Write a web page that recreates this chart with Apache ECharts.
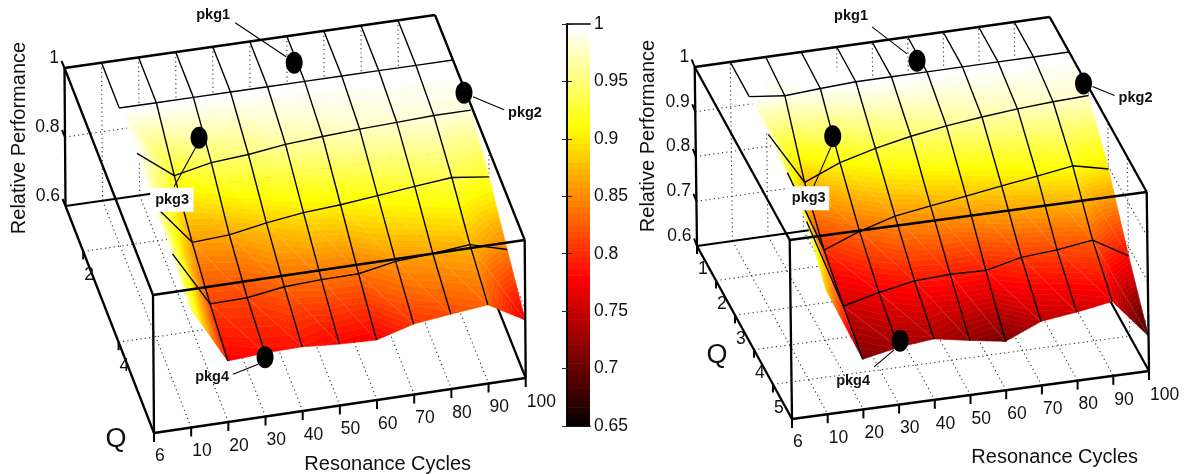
<!DOCTYPE html>
<html>
<head>
<meta charset="utf-8">
<style>html,body{margin:0;padding:0;background:#fff}#c{width:1185px;height:474px}</style>
<script src="https://cdn.jsdelivr.net/npm/echarts@6/dist/echarts.min.js"></script>
</head>
<body>
<div id="c"></div>
<script>
// ---- data ----
const cycles = [10,20,30,40,50,60,70,80,90,100];
const qLevels = [1,2,3,4,5,6];
const cycleTickValues = [0,10,20,30,40,50,60,70,80,90,100];
const cycleTickLabels = ['','10','20','30','40','50','60','70','80','90','100'];
const leftQTicks = [2,4,6];
const rightQTicks = [1,2,3,4,5,6];
const leftPerfTicks = [0.6,0.8,1];
const rightPerfTicks = [0.6,0.7,0.8,0.9,1];

const leftQ1 = [1,1,1,1,1,1,1,1,1,1];
const leftQ2 = [1,1,1,1,1,1,1,1,1,1];
const leftQ3 = [1,.92,.942,.95,.964,.971,.977,.981,.985,.985];
const leftQ4 = [.98,.858,.864,.883,.897,.904,.915,.926,.936,.922];
const leftQ5 = [.972,.811,.813,.829,.834,.835,.855,.862,.872,.842];
const leftQ6 = [.946,.777,.784,.786,.778,.774,.804,.817,.828,.768];

const rightQ1 = [1,1,1,1,1,1,1,1,1,1];
const rightQ2 = [1,.991,.996,1,1,1,1,1,1,1];
const rightQ3 = [.993,.875,.908,.929,.945,.957,.966,.973,.978,.981];
const rightQ4 = [.985,.801,.832,.855,.867,.878,.89,.901,.913,.895];
const rightQ5 = [.953,.753,.773,.788,.792,.79,.808,.814,.825,.779];
const rightQ6 = [.878,.712,.728,.736,.722,.709,.743,.753,.766,.678];

const pkgNames = ['pkg1','pkg2','pkg3','pkg4'];
const leftPkgPoints = [[59.2,1.58,1],[99.5,2.72,1],[27.4,2.86,1],[30,6,.772]];
const rightPkgPoints = [[59,1.67,1],[99.2,2.89,1],[26.1,3.375,1],[30.5,6,.742]];

// ---- presentation ----
const FONT = '"Liberation Sans", Arial, sans-serif';
const leftPanel = {
  bl:[65.5,206], br:[436,153], fl:[154,433], fr:[525.7,378], up:[-1,-138],
  rows:[leftQ1,leftQ2,leftQ3,leftQ4,leftQ5,leftQ6],
  qTicks:leftQTicks, perfTicks:leftPerfTicks, pkgs:leftPkgPoints,
  perfTick:[-3,-7],
  perfTitle:[19,138], cycTitle:[387.7,464], qTitle:[116,440],
  pkgLayout:[
    {label:[-81,-48],lead:[[-59,-40],[-8,-6]]},
    {label:[61,20],lead:[[9,4],[40,17]]},
    {label:[-27,62],lead:[[-3,9],[-25,49]],box:[43,24]},
    {label:[-53,20],lead:[[-7,7],[-32,17]]}
  ]
};
const rightPanel = {
  bl:[697,246], br:[1052,196], fl:[792,419], fr:[1149,371], up:[-2.3,-179],
  rows:[rightQ1,rightQ2,rightQ3,rightQ4,rightQ5,rightQ6],
  qTicks:rightQTicks, perfTicks:rightPerfTicks, pkgs:rightPkgPoints,
  perfTick:[-3,-7.5],
  perfTitle:[648,136], cycTitle:[1054.7,457], qTitle:[717,356],
  pkgLayout:[
    {label:[-66,-45],lead:[[-10,-7],[-45,-34]]},
    {label:[52,14],lead:[[9,3],[31,12]]},
    {label:[-24,62],lead:[[-2,11],[-19,50]],box:[41,24]},
    {label:[-47,40],lead:[[-6,9],[-26,26]]}
  ]
};

const LEVELS = 64, PMIN = 0.65, PMAX = 1;
function clamp01(t){return Math.max(0,Math.min(1,t));}
function hot(t){
  const r=clamp01(t/0.375), g=clamp01((t-0.375)/0.375), b=clamp01((t-0.75)/0.25);
  return 'rgb('+Math.round(r*255)+','+Math.round(g*255)+','+Math.round(b*255)+')';
}
function levelColor(k){return hot((k+1)/LEVELS);}

function projector(p){
  return function(x,q,z){
    const u=x/100, v=(q-1)/5, w=(z-0.6)/0.4;
    const fx=(1-v)*((1-u)*p.bl[0]+u*p.br[0])+v*((1-u)*p.fl[0]+u*p.fr[0]);
    const fy=(1-v)*((1-u)*p.bl[1]+u*p.br[1])+v*((1-u)*p.fl[1]+u*p.fr[1]);
    return [fx+w*p.up[0], fy+w*p.up[1]];
  };
}
function clipBand(poly,lo,hi){
  function clip(pts,test,t){
    const out=[];
    for(let i=0;i<pts.length;i++){
      const a=pts[i], b=pts[(i+1)%pts.length];
      const ia=test(a[2]), ib=test(b[2]);
      if(ia) out.push(a);
      if(ia!==ib){
        const s=(t-a[2])/(b[2]-a[2]);
        out.push([a[0]+s*(b[0]-a[0]),a[1]+s*(b[1]-a[1]),t]);
      }
    }
    return out;
  }
  let r=clip(poly,z=>z>=lo,lo);
  if(r.length) r=clip(r,z=>z<=hi,hi);
  return r;
}
function layer(name,items,draw){
  return {
    type:'custom', name:name, coordinateSystem:'cartesian2d', xAxisIndex:0, yAxisIndex:0,
    silent:true, clip:false, animation:false, progressive:0,
    data:items.map((_,i)=>[i,i]),
    renderItem:function(params,api){ return draw(items[params.dataIndex],api); }
  };
}
function lineItem(api,a,b,style){
  const A=api.coord(a),B=api.coord(b);
  return {type:'line',shape:{x1:A[0],y1:A[1],x2:B[0],y2:B[1]},style:Object.assign({fill:null,stroke:'#000',lineWidth:1},style)};
}
function textItem(api,pos,text,font,opt){
  const P=api.coord(pos);
  return Object.assign({type:'text',x:P[0],y:P[1],style:{x:0,y:0,text:text,font:font,fill:'#111',
    textAlign:(opt&&opt.align)||'center',textVerticalAlign:'middle',verticalAlign:'middle'}},
    (opt&&opt.rotation)?{rotation:opt.rotation}:{});
}

function panelSeries(p){
  const P=projector(p), out=[];
  const Z0=.6,Z1=1,Q0=1,Q1=6,X0=0,X1=100;
  // dotted grid
  const dots=[];
  const innerX=cycleTickValues.filter(v=>v>X0&&v<X1);
  const innerQ=p.qTicks.filter(v=>v>Q0&&v<Q1);
  const innerZ=p.perfTicks.filter(v=>v>Z0&&v<Z1);
  innerX.forEach(x=>{dots.push([[x,Q0,Z0],[x,Q1,Z0]]);dots.push([[x,Q0,Z0],[x,Q0,Z1]]);});
  innerQ.forEach(q=>{dots.push([[X0,q,Z0],[X1,q,Z0]]);dots.push([[X1,q,Z0],[X1,q,Z1]]);});
  innerZ.forEach(z=>{dots.push([[X0,Q0,z],[X1,Q0,z]]);dots.push([[X1,Q0,z],[X1,Q1,z]]);});
  out.push(layer('grid',dots,(s,api)=>lineItem(api,P(...s[0]),P(...s[1]),{stroke:'#333',lineWidth:1.1,lineDash:[1.2,3.2]})));
  // edges behind the surface
  const back=[[[X0,Q0,Z0],[X1,Q0,Z0]],[[X1,Q0,Z0],[X1,Q1,Z0]]];
  out.push(layer('backEdges',back,(s,api)=>lineItem(api,P(...s[0]),P(...s[1]),{lineWidth:2.2})));
  // surface cells
  const cells=[];
  for(let j=0;j<qLevels.length-1;j++) for(let i=0;i<cycles.length-1;i++) cells.push([i,j]);
  out.push(layer('surface',cells,(c,api)=>{
    const i=c[0],j=c[1],kids=[];
    const V=(a,b)=>{const z=p.rows[b][a];const q=api.coord(P(cycles[a],qLevels[b],z));return [q[0],q[1],z];};
    const a=V(i,j),b=V(i+1,j),d=V(i,j+1),e=V(i+1,j+1);
    [[a,b,e],[a,e,d]].forEach(tri=>{
      const zs=tri.map(t=>t[2]);
      let kLo=Math.floor((Math.min(...zs)-PMIN)/(PMAX-PMIN)*LEVELS);
      let kHi=Math.floor((Math.max(...zs)-PMIN)/(PMAX-PMIN)*LEVELS);
      kLo=Math.max(0,kLo);kHi=Math.min(LEVELS-1,kHi);
      for(let k=kLo;k<=kHi;k++){
        const lo=PMIN+k*(PMAX-PMIN)/LEVELS,hi=PMIN+(k+1)*(PMAX-PMIN)/LEVELS;
        const poly=clipBand(tri,lo,hi);
        if(poly.length>2){
          const col=levelColor(k);
          kids.push({type:'polygon',shape:{points:poly.map(t=>[t[0],t[1]])},style:{fill:col,stroke:col,lineWidth:0.6}});
        }
      }
    });
    kids.push({type:'line',shape:{x1:a[0],y1:a[1],x2:e[0],y2:e[1]},style:{stroke:'rgba(255,255,255,0.26)',lineWidth:0.6}});
    return {type:'group',children:kids};
  }));
  // mesh lines: inner rows and columns, boundary only for the two flat back rows
  const mesh=[];
  for(let j=1;j<qLevels.length-1;j++) for(let i=0;i<cycles.length-1;i++) mesh.push([[i,j],[i+1,j]]);
  for(let j=0;j<qLevels.length-1;j++) for(let i=0;i<cycles.length;i++){
    if((i===0||i===cycles.length-1)&&j>0) continue;
    mesh.push([[i,j],[i,j+1]]);
  }
  out.push(layer('mesh',mesh,(s,api)=>{
    const Q=t=>P(cycles[t[0]],qLevels[t[1]],p.rows[t[1]][t[0]]);
    return lineItem(api,Q(s[0]),Q(s[1]),{lineWidth:1.4});
  }));
  // front box edges
  const front=[
    [[X0,Q0,Z0],[X0,Q0,Z1]],[[X0,Q0,Z1],[X1,Q0,Z1]],[[X0,Q0,Z1],[X0,Q1,Z1]],
    [[X1,Q0,Z1],[X1,Q1,Z1]],[[X0,Q1,Z1],[X1,Q1,Z1]],[[X0,Q0,Z0],[X0,Q1,Z0]],
    [[X0,Q1,Z0],[X1,Q1,Z0]],[[X0,Q1,Z0],[X0,Q1,Z1]],[[X1,Q1,Z0],[X1,Q1,Z1]]
  ];
  out.push(layer('frontEdges',front,(s,api)=>lineItem(api,P(...s[0]),P(...s[1]),{lineWidth:2.3})));
  // ticks
  const ticks=[];
  cycleTickValues.forEach(x=>ticks.push({pt:P(x,Q1,Z0),d:[0,9]}));
  p.qTicks.forEach(q=>ticks.push({pt:P(X0,q,Z0),d:[0,8]}));
  p.perfTicks.forEach(z=>ticks.push({pt:P(X0,Q0,z),d:p.perfTick}));
  out.push(layer('ticks',ticks,(t,api)=>lineItem(api,t.pt,[t.pt[0]+t.d[0],t.pt[1]+t.d[1]],{lineWidth:2})));
  // tick labels and titles
  const texts=[];
  const tickFont='17.5px '+FONT;
  cycleTickValues.forEach((x,i)=>{
    if(!cycleTickLabels[i])return;
    const q=P(x,Q1,Z0);texts.push({pos:[q[0]+1,q[1]+24],text:cycleTickLabels[i],font:tickFont,align:'left'});
  });
  p.qTicks.forEach(v=>{
    const q=P(X0,v,Z0);texts.push({pos:[q[0]+1,q[1]+23.5],text:String(v),font:tickFont,align:'left'});
  });
  p.perfTicks.forEach(z=>{
    const q=P(X0,Q0,z);texts.push({pos:[q[0]-5.5,q[1]-10],text:String(z),font:tickFont,align:'right'});
  });
  texts.push({pos:p.perfTitle,text:'Relative Performance',font:'20px '+FONT,rotation:Math.PI/2});
  texts.push({pos:p.cycTitle,text:'Resonance Cycles',font:'20px '+FONT});
  texts.push({pos:p.qTitle,text:'Q',font:'27px '+FONT});
  out.push(layer('axisText',texts,(t,api)=>textItem(api,t.pos,t.text,t.font,t)));
  // package annotations
  const ann=p.pkgs.map((pt,i)=>({name:pkgNames[i],pt:P(...pt),lay:p.pkgLayout[i]}));
  out.push(layer('pkg',ann,(a,api)=>{
    const c=a.pt,l=a.lay,kids=[];
    const C=api.coord(c);
    kids.push(lineItem(api,[c[0]+l.lead[0][0],c[1]+l.lead[0][1]],[c[0]+l.lead[1][0],c[1]+l.lead[1][1]],{lineWidth:1.1}));
    if(l.box){
      const B=api.coord([c[0]+l.label[0]-l.box[0]/2,c[1]+l.label[1]-l.box[1]/2]);
      kids.push({type:'rect',shape:{x:B[0],y:B[1],width:l.box[0],height:l.box[1]},style:{fill:'#fff'}});
    }
    kids.push({type:'ellipse',shape:{cx:C[0],cy:C[1],rx:8.5,ry:11},style:{fill:'#000'}});
    kids.push(textItem(api,[c[0]+l.label[0],c[1]+l.label[1]],a.name,'bold 14.5px '+FONT));
    return {type:'group',children:kids};
  }));
  return out;
}

// colour bar bands, drawn on the real value axis
const barBands=[];
for(let k=0;k<LEVELS;k++) barBands.push(k);
const barSeries={
  type:'custom',name:'colorbar',coordinateSystem:'cartesian2d',xAxisIndex:1,yAxisIndex:1,
  silent:true,animation:false,
  data:barBands.map(k=>[0,k]),
  renderItem:function(params,api){
    const k=api.value(1);
    const lo=PMIN+k*(PMAX-PMIN)/LEVELS,hi=PMIN+(k+1)*(PMAX-PMIN)/LEVELS;
    const a=api.coord([0,lo]),b=api.coord([1,hi]);
    return {type:'rect',shape:{x:a[0],y:b[1],width:b[0]-a[0],height:a[1]-b[1]+0.6},style:{fill:levelColor(k)}};
  }
};

const axisLineBlack={show:true,lineStyle:{color:'#000',width:1.6}};
const option={
  backgroundColor:'#fff',animation:false,
  grid:[{left:0,top:0,width:1185,height:474},{left:567,top:24,width:23,height:402}],
  xAxis:[
    {type:'value',min:0,max:1185,show:false,gridIndex:0},
    {type:'value',min:0,max:1,gridIndex:1,z:5,axisLine:axisLineBlack,axisTick:{show:false},axisLabel:{show:false},splitLine:{show:false},position:'bottom'},
    {type:'value',min:0,max:1,gridIndex:1,z:5,axisLine:axisLineBlack,axisTick:{show:false},axisLabel:{show:false},splitLine:{show:false},position:'top'}
  ],
  yAxis:[
    {type:'value',min:0,max:474,inverse:true,show:false,gridIndex:0},
    {type:'value',min:0.65,max:1,interval:0.05,gridIndex:1,z:5,position:'left',axisLine:axisLineBlack,
      axisTick:{show:true,inside:true,length:5,lineStyle:{color:'#222',width:1}},axisLabel:{show:false},splitLine:{show:false}},
    {type:'value',min:0.65,max:1,interval:0.05,gridIndex:1,z:5,position:'right',axisLine:axisLineBlack,
      axisTick:{show:true,inside:true,length:5,lineStyle:{color:'#222',width:1}},
      axisLabel:{show:true,margin:4,color:'#111',fontSize:17.5,fontFamily:'Liberation Sans',showMinLabel:true,showMaxLabel:true,hideOverlap:false},splitLine:{show:false}}
  ],
  series:[...panelSeries(leftPanel),barSeries,...panelSeries(rightPanel)]
};
const chart=echarts.init(document.getElementById('c'),null,{renderer:'canvas',width:1185,height:474});
chart.setOption(option);
</script>
</body>
</html>
